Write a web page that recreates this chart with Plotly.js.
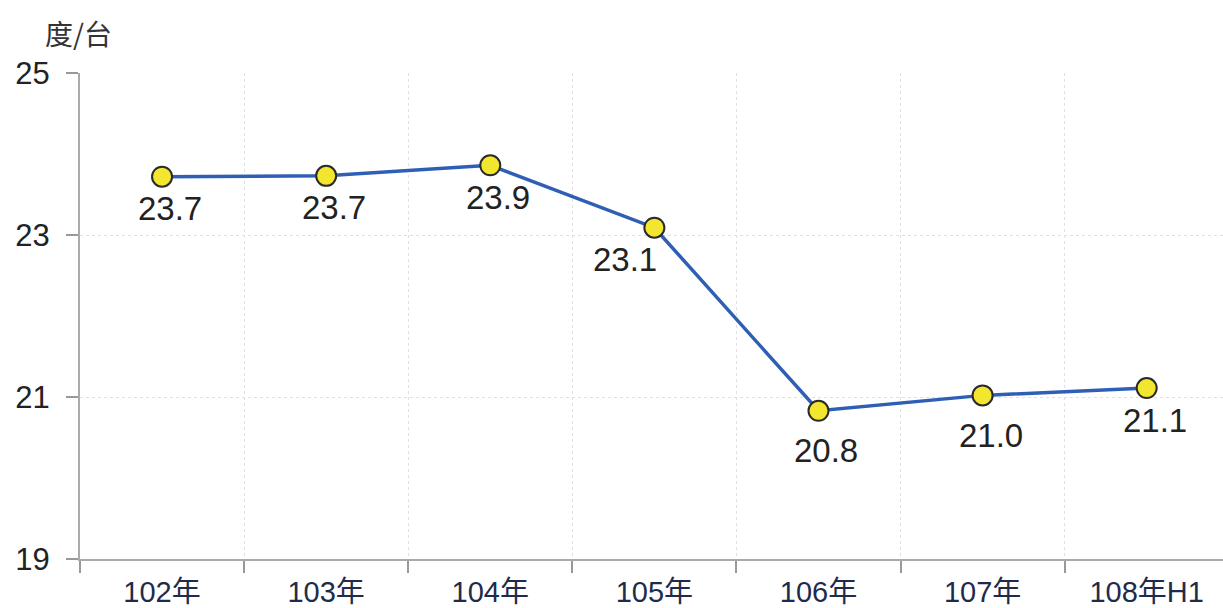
<!DOCTYPE html>
<html>
<head>
<meta charset="utf-8">
<script src="https://cdn.plot.ly/plotly-3.0.1.min.js"></script>
<style>html,body{margin:0;padding:0;background:#fff;}#chart{width:1223px;height:608px;}</style>
</head>
<body>
<div id="chart"></div>
<script>
const categories = ['102年', '103年', '104年', '105年', '106年', '107年', '108年H1'];
const values = [23.7, 23.7, 23.9, 23.1, 20.8, 21.0, 21.1];
const plotValues = [23.72, 23.73, 23.86, 23.09, 20.83, 21.02, 21.11];
const yTicks = [19, 21, 23, 25];
const unitLabel = '度/台';

const fontFam = '"Liberation Sans", Arial, "Noto Sans CJK TC", sans-serif';

const trace = {
  x: categories,
  y: plotValues,
  type: 'scatter',
  mode: 'lines+markers',
  line: {color: '#2e5fb5', width: 3.5},
  marker: {size: 20, color: '#f3e62e', line: {color: '#2a2a2a', width: 2}},
  cliponaxis: false,
  hoverinfo: 'skip'
};

// label placement (style only): general offset below the point, 105年 shifted left
const labelAnnotations = categories.map((c, i) => ({
  x: c, y: plotValues[i], xref: 'x', yref: 'y',
  text: values[i].toFixed(1), showarrow: false,
  xanchor: 'center', yanchor: 'middle',
  xshift: (i === 3 ? -29 : 8), yshift: (i >= 4 && i <= 5 ? -40 : -32),
  font: {family: fontFam, size: 33, color: '#222'}
}));

const layout = {
  width: 1223, height: 608,
  margin: {l: 80, r: 0, t: 73, b: 49},
  paper_bgcolor: '#fff', plot_bgcolor: '#fff',
  showlegend: false,
  xaxis: {
    type: 'category',
    range: [-0.5, 6.465],
    tickson: 'boundaries',
    ticks: 'outside', ticklen: 12, tickwidth: 2, tickcolor: '#999',
    showgrid: true, gridcolor: '#e0e0e0', griddash: 'dot', gridwidth: 1,
    showline: true, linecolor: '#aaa', linewidth: 2,
    tickfont: {family: fontFam, size: 29, color: '#1f2b4a'},
    ticklabelstandoff: 6,
    zeroline: false, fixedrange: true
  },
  yaxis: {
    range: [19, 25],
    tickvals: yTicks,
    ticktext: yTicks.map(String),
    ticks: 'outside', ticklen: 12, tickwidth: 2, tickcolor: '#999',
    showgrid: true, gridcolor: '#e0e0e0', griddash: 'dot', gridwidth: 1,
    showline: true, linecolor: '#aaa', linewidth: 2,
    tickfont: {family: fontFam, size: 31, color: '#222'},
    ticklabelstandoff: 10,
    zeroline: false, fixedrange: true
  },
  annotations: [{
    xref: 'paper', yref: 'paper', x: -0.032, y: 1.083,
    xanchor: 'left', yanchor: 'middle',
    text: unitLabel, showarrow: false,
    font: {family: '"Noto Sans CJK TC", sans-serif', size: 28, color: '#333'}
  }].concat(labelAnnotations)
};

Plotly.newPlot('chart', [trace], layout, {staticPlot: true, displayModeBar: false});
</script>
</body>
</html>
